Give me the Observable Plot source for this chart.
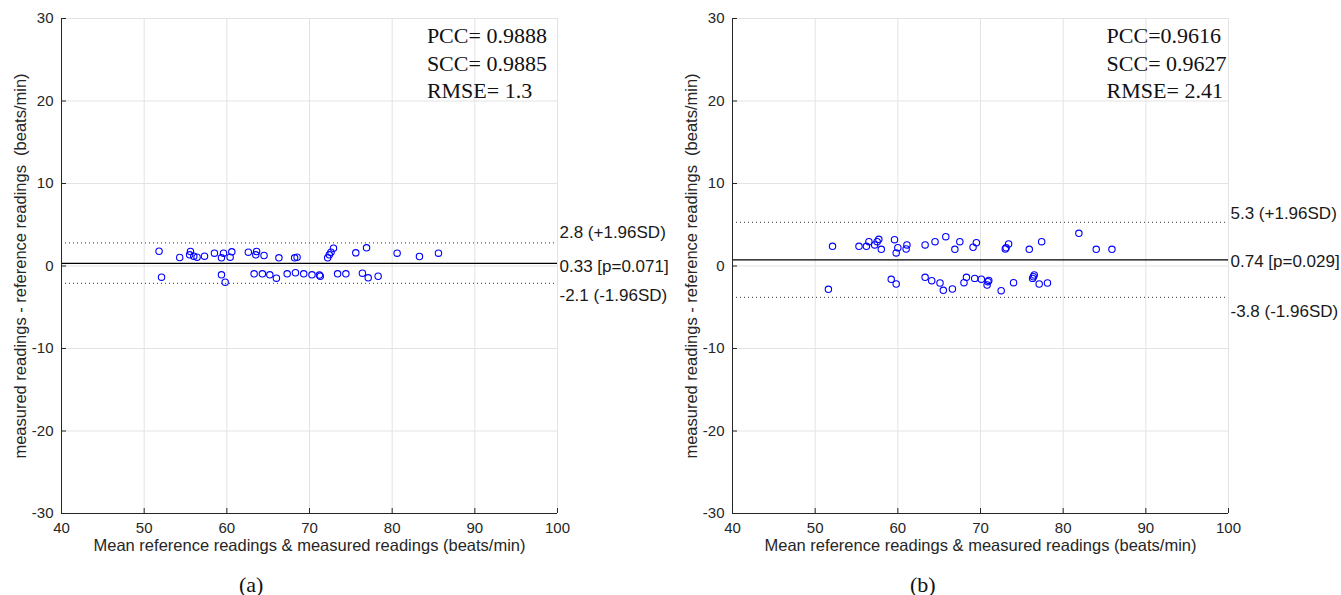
<!DOCTYPE html>
<html>
<head>
<meta charset="utf-8">
<script src="https://cdn.jsdelivr.net/npm/d3@7"></script>
<script src="https://cdn.jsdelivr.net/npm/@observablehq/plot@0.6"></script>
<style>
  body { margin: 0; background: #fff; font-family: "Liberation Sans", Arial, sans-serif; }
  #wrap { display: flex; width: 1341px; }
  .panel { position: relative; width: 670px; height: 595px; }
  .panel svg { display: block; }
  .cap { position: absolute; top: 572px; font-family: "Liberation Serif", serif; font-size: 22px; color: #111; }
</style>
</head>
<body>
<div id="wrap"></div>
<script>
// ---------- data ----------
const xTicks = [40, 50, 60, 70, 80, 90, 100];
const yTicks = [-30, -20, -10, 0, 10, 20, 30];

// panel (a)
const aMean = [51.8, 52.1, 54.3, 55.6, 55.5, 56.0, 56.4, 57.3, 58.5, 59.35, 59.6, 60.4, 60.6, 59.35, 59.8,
  62.6, 63.6, 63.5, 64.5, 63.3, 64.3, 65.2, 66.0, 66.3, 67.3, 68.3, 68.2, 68.5, 69.3, 70.3, 71.3, 71.2,
  72.2, 72.4, 72.6, 72.9, 73.4, 74.4, 75.6, 76.9, 76.4, 77.1, 78.3, 80.6, 83.3, 85.6];
const aDiff = [1.79, -1.36, 1.03, 1.76, 1.36, 1.19, 1.07, 1.19, 1.55, 0.99, 1.55, 1.07, 1.72, -1.07, -1.96,
  1.67, 1.76, 1.36, 1.27, -0.95, -0.95, -1.07, -1.48, 0.99, -0.95, -0.82, 0.99, 1.07, -0.95, -1.07, -1.24, -1.1,
  0.99, 1.36, 1.67, 2.16, -0.95, -0.95, 1.6, 2.2, -0.87, -1.43, -1.24, 1.55, 1.15, 1.55];
const aBias = 0.33, aUpper = 2.8, aLower = -2.1;
const aBiasLabel = "0.33 [p=0.071]", aUpperLabel = "2.8 (+1.96SD)", aLowerLabel = "-2.1 (-1.96SD)";
const aStats = ["PCC= 0.9888", "SCC= 0.9885", "RMSE= 1.3"];

// panel (b)
const bMean = [52.1, 51.6, 55.3, 56.2, 56.5, 57.2, 57.5, 57.7, 58.0, 59.6, 60.0, 59.8, 61.1, 61.0, 59.2, 59.8,
  63.3, 64.5, 65.8, 66.9, 67.5, 63.3, 64.1, 65.1, 65.5, 66.6, 68.0, 68.3, 69.1, 69.5, 73.0, 73.4, 73.1,
  75.9, 77.4, 81.9, 84.0, 85.9, 69.3, 70.1, 70.9, 70.8, 71.0, 72.5, 74.0, 76.3, 76.5, 76.4, 77.1, 78.1];
const bDiff = [2.39, -2.83, 2.39, 2.39, 2.95, 2.55, 2.95, 3.23, 2.02, 3.19, 2.22, 1.58, 2.55, 2.06, -1.61, -2.18,
  2.55, 2.95, 3.55, 2.02, 2.95, -1.37, -1.78, -2.06, -2.95, -2.79, -2.02, -1.37, 2.27, 2.83, 2.06, 2.67, 2.2,
  2.02, 2.95, 3.96, 2.02, 2.02, -1.5, -1.6, -1.9, -2.3, -1.75, -2.99, -2.02, -1.5, -1.09, -1.3, -2.18, -2.06];
const bBias = 0.74, bUpper = 5.3, bLower = -3.8;
const bBiasLabel = "0.74 [p=0.029]", bUpperLabel = "5.3 (+1.96SD)", bLowerLabel = "-3.8 (-1.96SD)";
const bStats = ["PCC=0.9616", "SCC= 0.9627", "RMSE= 2.41"];

const xLabel = "Mean reference readings & measured readings (beats/min)";
const yLabel = "measured readings - reference readings\u00a0\u00a0(beats/min)";

function panel(o) {
  const pts = o.mean.map((m, i) => ({m, d: o.diff[i]}));
  const ink = "#262626";
  const lab = {x: 100, textAnchor: "start", dx: 2, fontSize: 17, fill: "#1a1a1a"};
  const svg = Plot.plot({
    width: 670, height: 560,
    marginLeft: 61, marginRight: 113, marginTop: 18, marginBottom: 47,
    style: {fontFamily: "'Liberation Sans', Arial, sans-serif", background: "#fff", overflow: "visible"},
    x: {domain: [40, 100]},
    y: {domain: [-30, 30]},
    marks: [
      Plot.gridX(xTicks, {stroke: "#e3e3e3", strokeOpacity: 1, strokeWidth: 1}),
      Plot.gridY(yTicks, {stroke: "#e3e3e3", strokeOpacity: 1, strokeWidth: 1}),
      Plot.ruleY([o.upper, o.lower], {x1: 40, x2: 100, stroke: "#333", strokeWidth: 1, strokeDasharray: "1,3"}),
      Plot.ruleY([o.bias], {x1: 40, x2: 100, stroke: "#000", strokeWidth: 1.3}),
      Plot.ruleY([-30], {stroke: ink, strokeWidth: 1}),
      Plot.ruleX([40], {stroke: ink, strokeWidth: 1}),
      Plot.axisX({ticks: xTicks, tickSize: -5, tickPadding: 14, tickFormat: d => d, label: null,
        fontSize: 15, color: ink, stroke: ink}),
      Plot.axisY({ticks: yTicks, tickSize: -5, tickPadding: 13, tickFormat: d => d, label: null,
        fontSize: 15, color: ink, stroke: ink}),
      Plot.dot(pts, {x: "m", y: "d", r: 3.2, stroke: "#0000ff", strokeWidth: 1.1, fill: "none"}),
      Plot.text([o.upper], {...lab, y: d => d, text: () => o.upperLabel, dy: o.upDy}),
      Plot.text([o.bias], {...lab, y: d => d, text: () => o.biasLabel, dy: o.midDy}),
      Plot.text([o.lower], {...lab, y: d => d, text: () => o.lowerLabel, dy: o.lowDy}),
      Plot.text([o.stats.join("\n")], {x: o.statsX, frameAnchor: "top", dy: 5, lineAnchor: "top",
        textAnchor: "start", lineHeight: 1.25, fontSize: 22, fill: "#111",
        fontFamily: "'Liberation Serif', serif"}),
      Plot.text([xLabel], {frameAnchor: "bottom", textAnchor: "middle", dy: 37, fontSize: 16.5, fill: ink}),
      Plot.text([yLabel], {frameAnchor: "left", textAnchor: "middle", dx: -41, rotate: -90, fontSize: 16.5, fill: ink})
    ]
  });
  const div = document.createElement("div");
  div.className = "panel";
  div.appendChild(svg);
  const cap = document.createElement("div");
  cap.className = "cap";
  cap.style.left = o.capLeft + "px";
  cap.textContent = o.caption;
  div.appendChild(cap);
  return div;
}

const wrap = document.getElementById("wrap");
wrap.appendChild(panel({mean: aMean, diff: aDiff, bias: aBias, upper: aUpper, lower: aLower,
  biasLabel: aBiasLabel, upperLabel: aUpperLabel, lowerLabel: aLowerLabel,
  upDy: -10, midDy: 3, lowDy: 12,
  stats: aStats, statsX: 84.2, caption: "(a)", capLeft: 239}));
const spacer = document.createElement("div");
spacer.style.width = "1px";
wrap.appendChild(spacer);
wrap.appendChild(panel({mean: bMean, diff: bDiff, bias: bBias, upper: bUpper, lower: bLower,
  biasLabel: bBiasLabel, upperLabel: bUpperLabel, lowerLabel: bLowerLabel,
  upDy: -9, midDy: 2, lowDy: 14,
  stats: bStats, statsX: 85.25, caption: "(b)", capLeft: 239}));
</script>
</body>
</html>
